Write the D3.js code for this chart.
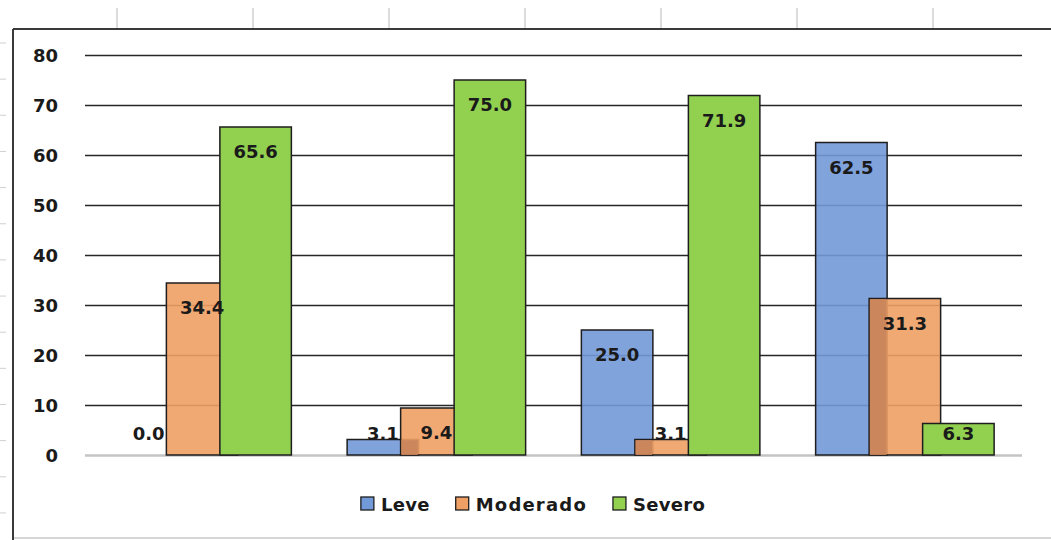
<!DOCTYPE html>
<html>
<head>
<meta charset="utf-8">
<script src="https://cdnjs.cloudflare.com/ajax/libs/d3/7.8.5/d3.min.js"></script>
<style>
body { margin: 0; background: #fff; }
#canvas { width: 1051px; height: 540px; overflow: hidden; }
text { font-family: "DejaVu Sans", Verdana, sans-serif; font-weight: bold; }
</style>
</head>
<body>
<div id="canvas"></div>
<script>
// ----------------------------------------------------------
// DATA -----------------------------------------------------
// ----------------------------------------------------------
var groups = ["G1", "G2", "G3", "G4"];
var series = ["Leve", "Moderado", "Severo"];
var values_leve = [0.0, 3.1, 25.0, 62.5];
var values_moderado = [34.4, 9.4, 3.1, 31.3];
var values_severo = [65.6, 75.0, 71.9, 6.3];
var y_ticks = [0, 10, 20, 30, 40, 50, 60, 70, 80];

var colors = {
  Leve: "#7299d8",
  Moderado: "#f0a064",
  Severo: "#92d050"
};
var color_overlap = "#c8835a";
var color_text = "#1a1a1a";

var series_values = {
  Leve: values_leve,
  Moderado: values_moderado,
  Severo: values_severo
};

// ----------------------------------------------------------
// STRUCTURE ------------------------------------------------
// ----------------------------------------------------------
var W = 1051, H = 540;
var plot_left = 85, plot_right = 1022;
var plot_top = 55, plot_bottom = 455;

var svg = d3.select("#canvas").append("svg")
  .attr("width", W)
  .attr("height", H);

// spreadsheet ticks behind the chart
var sheet_group = svg.append("g").attr("class", "sheet");
sheet_group.selectAll(".col_tick")
  .data(d3.range(7))
  .enter().append("line")
  .attr("x1", function(d) { return 117 + d * 136; })
  .attr("x2", function(d) { return 117 + d * 136; })
  .attr("y1", 8).attr("y2", 29)
  .style("stroke", "#dcdcdc").style("stroke-width", 2);
sheet_group.selectAll(".row_tick")
  .data(d3.range(14))
  .enter().append("line")
  .attr("x1", 0).attr("x2", 6)
  .attr("y1", function(d) { return 43 + d * 36.15; })
  .attr("y2", function(d) { return 43 + d * 36.15; })
  .style("stroke", "#d0d0d0").style("stroke-width", 1);

// chart frame
svg.append("line")
  .attr("x1", 13).attr("x2", W).attr("y1", 29).attr("y2", 29)
  .style("stroke", "#3a3a3a").style("stroke-width", 2);
svg.append("line")
  .attr("x1", 13).attr("x2", 13).attr("y1", 29).attr("y2", H)
  .style("stroke", "#3a3a3a").style("stroke-width", 2);
svg.append("line")
  .attr("x1", 14).attr("x2", W).attr("y1", 538).attr("y2", 538)
  .style("stroke", "#c8c8c8").style("stroke-width", 1.5);

var grid_group = svg.append("g").attr("class", "grid");
var bar_group = svg.append("g").attr("class", "bars");
var label_group = svg.append("g").attr("class", "labels");
var legend_group = svg.append("g").attr("class", "legend");

// ----------------------------------------------------------
// SCALES ---------------------------------------------------
// ----------------------------------------------------------
var xScale = d3.scaleBand()
  .domain(groups)
  .range([plot_left, plot_right]);

var bar_width = 71.5;
var bar_step = 53.5;
var cluster_width = bar_width + bar_step * (series.length - 1);

var xSeries = d3.scalePoint()
  .domain(series)
  .range([0, bar_step * (series.length - 1)]);

function barX(g, s) {
  return xScale(g) + (xScale.bandwidth() - cluster_width) / 2 + xSeries(s);
}

var yScale = d3.scaleLinear()
  .domain([0, 80])
  .range([plot_bottom, plot_top]);

// ----------------------------------------------------------
// AXIS -----------------------------------------------------
// ----------------------------------------------------------
var yAxis = d3.axisLeft(yScale)
  .tickValues(y_ticks)
  .tickSize(-(plot_right - plot_left))
  .tickPadding(27)
  .tickFormat(d3.format("d"));

grid_group.append("g")
  .attr("transform", "translate(" + plot_left + ",0)")
  .call(customYAxis);

function customYAxis(g) {
  g.call(yAxis);
  g.select(".domain").remove();
  g.selectAll(".tick line")
    .attr("stroke", "#262626")
    .attr("stroke-width", 1.3);
  g.selectAll(".tick text")
    .attr("fill", color_text)
    .attr("dy", "0.36em")
    .style("font-size", "18px")
    .style("font-family", "'DejaVu Sans', sans-serif")
    .style("font-weight", "bold");
  g.selectAll(".tick").filter(function(d) { return d === 0; }).select("line")
    .attr("stroke", "#c4c4c4")
    .attr("stroke-width", 2.5);
}

// ----------------------------------------------------------
// BARS -----------------------------------------------------
// ----------------------------------------------------------
var bar_data = [];
series.forEach(function(s) {
  groups.forEach(function(g, i) {
    bar_data.push({ group: g, series: s, value: series_values[s][i] });
  });
});

bar_group.selectAll(".bar")
  .data(bar_data)
  .enter().append("rect")
  .attr("class", "bar")
  .attr("x", function(d) { return barX(d.group, d.series); })
  .attr("y", function(d) { return yScale(d.value); })
  .attr("width", bar_width)
  .attr("height", function(d) { return yScale(0) - yScale(d.value); })
  .style("fill", function(d) { return colors[d.series]; })
  .style("fill-opacity", function(d) { return d.series === "Severo" ? 1 : 0.9; })
  .style("stroke", "#1e1e1e")
  .style("stroke-width", 1.5);

// darker zone where Moderado sits over Leve
bar_group.selectAll(".overlap")
  .data(groups)
  .enter().append("rect")
  .attr("class", "overlap")
  .attr("x", function(g) { return barX(g, "Moderado") + 0.75; })
  .attr("y", function(g, i) { return yScale(Math.min(values_leve[i], values_moderado[i])) + 0.75; })
  .attr("width", function(g) { return barX(g, "Leve") + bar_width - barX(g, "Moderado") - 1.5; })
  .attr("height", function(g, i) {
    var h = yScale(0) - yScale(Math.min(values_leve[i], values_moderado[i])) - 0.75;
    return Math.max(0, h);
  })
  .style("fill", color_overlap)
  .style("fill-opacity", 0.9);

// ----------------------------------------------------------
// LABELS ---------------------------------------------------
// ----------------------------------------------------------
label_group.selectAll(".label")
  .data(bar_data)
  .enter().append("text")
  .attr("class", "label")
  .attr("x", function(d) { return barX(d.group, d.series) + bar_width / 2; })
  .attr("y", function(d) { return Math.min(yScale(d.value) + 31, yScale(0) - 15); })
  .attr("text-anchor", "middle")
  .style("font-size", "18px")
  .style("fill", color_text)
  .text(function(d) { return d3.format(".1f")(d.value); });

// ----------------------------------------------------------
// LEGEND ---------------------------------------------------
// ----------------------------------------------------------
var legend_center = 533;
var legend_y = 511;
var items = legend_group.selectAll(".item")
  .data(series)
  .enter().append("g")
  .attr("class", "item");

items.append("rect")
  .attr("width", 13).attr("height", 13)
  .attr("y", legend_y - 14)
  .style("fill", function(d) { return colors[d]; })
  .style("stroke", "#1e1e1e")
  .style("stroke-width", 1.3);

items.append("text")
  .attr("x", 20)
  .attr("y", legend_y)
  .style("font-size", "18px")
  .style("fill", color_text)
  .style("letter-spacing", function(d) { return d === "Moderado" ? "1.2px" : "0.3px"; })
  .text(function(d) { return d; });

var offsets = [];
var total = 0;
items.each(function(d, i) {
  var w = 20 + d3.select(this).select("text").node().getComputedTextLength();
  offsets.push(total);
  total += w + (i < series.length - 1 ? 26 : 0);
});
items.attr("transform", function(d, i) {
  return "translate(" + (legend_center - total / 2 + offsets[i]) + ",0)";
});
</script>
</body>
</html>
